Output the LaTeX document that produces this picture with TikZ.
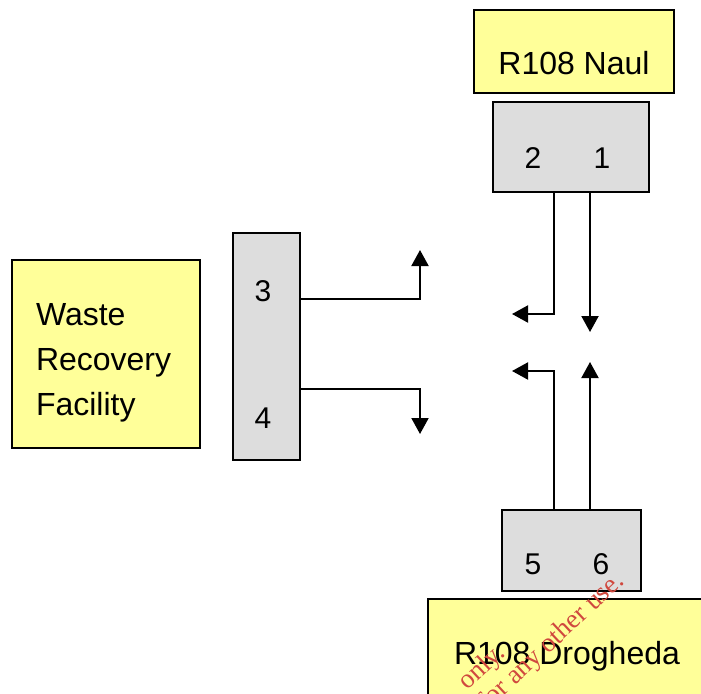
\documentclass[tikz,border=0pt]{standalone}
\usepackage{fontspec}
\setmainfont{Liberation Sans}
\newfontfamily\stampfont{Liberation Serif}
\usetikzlibrary{arrows.meta}
\definecolor{padyellow}{RGB}{255,255,153}
\definecolor{padgray}{RGB}{221,221,221}
\definecolor{stampred}{RGB}{208,72,62}

\begin{document}
\begin{tikzpicture}[x=1pt,y=-1pt,line width=2pt,>={Triangle[length=16pt,width=17pt]},
		ybox/.style={draw,fill=padyellow,inner sep=0pt},
		gbox/.style={draw,fill=padgray,inner sep=0pt},
		lbl/.style={font=\fontsize{32}{45}\selectfont,inner sep=0pt},
		num/.style={font=\fontsize{30}{36}\selectfont,inner sep=0pt},
		stamp/.style={font=\stampfont\fontsize{27}{32}\selectfont,text=stampred,rotate=43,anchor=base east,inner sep=0pt}]
			\path[fill=white,use as bounding box] (0,0) rectangle (701,693);
			\clip (0,0) rectangle (701,693);
			
			\node[ybox,minimum width=200,minimum height=83] (naul) at (574,51.5) {};
			\node[gbox,minimum width=156,minimum height=90] (naulj) at (571,147) {};
			\node[ybox,minimum width=188,minimum height=188] (wrf) at (106,354) {};
			\node[gbox,minimum width=67,minimum height=227] (wrfj) at (266.5,346.5) {};
			\node[gbox,minimum width=139,minimum height=81] (drogj) at (571.5,550.5) {};
			\node[ybox,minimum width=278,minimum height=117] (drog) at (567,657.5) {};
			
			\node[lbl] (naultxt) at (574,63.5) {R108 Naul};
			\node[lbl,align=left,anchor=west] (wrftxt) at (35,363) {Waste\\Recovery\\Facility};
			\node[lbl] (drogtxt) at (567,656) {R108 Drogheda};
			
			\node[num] (n1) at (602,158) {1};
			\node[num] (n2) at (533,158) {2};
			\node[num] (n3) at (263,291) {3};
			\node[num] (n4) at (263,418) {4};
			\node[num] (n5) at (533,564) {5};
			\node[num] (n6) at (601,564) {6};
			
			\coordinate (d1) at (590,332);
			\coordinate (l2) at (512,314);
			\coordinate (u3) at (420,250);
			\coordinate (d4) at (420,434);
			\coordinate (l5) at (512,371);
			\coordinate (u6) at (590,362);
			
			\draw[->] (naulj.south -| d1) -- (d1);
			\draw[->] (naulj.south -| 554,0) |- (l2);
			\draw[->] (wrfj.east |- 0,299) -| (u3);
			\draw[->] (wrfj.east |- 0,389) -| (d4);
			\draw[->] (drogj.north -| 554,0) |- (l5);
			\draw[->] (drogj.north -| u6) -- (u6);
			
			\node[stamp] (stamp1) at (507,654) {only.};
			\node[stamp] (stamp2) at (626,582) {for any other use.};
		\end{tikzpicture}
\end{document}
